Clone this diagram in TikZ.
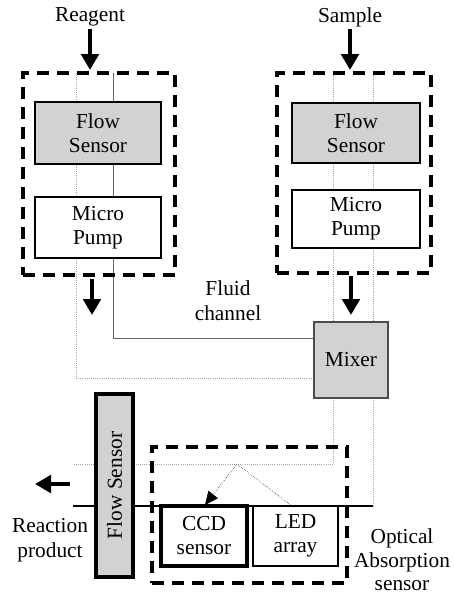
\documentclass[tikz,border=0pt]{standalone}
\usepackage{fontspec}
\setmainfont{Liberation Serif}
\usetikzlibrary{arrows.meta,positioning}
\begin{document}
\begin{tikzpicture}[x=0.75pt,y=-0.75pt,
  every node/.style={font=\fontsize{16}{18}\selectfont, inner sep=0pt, align=center},
  dashbox/.style={draw, line width=3pt, dash pattern=on 9pt off 6pt},
  sensorbox/.style={draw, line width=2pt, fill=gray!35},
  pumpbox/.style={draw, line width=1.6pt, fill=white},
  chan/.style={draw=gray!70, line width=0.6pt, densely dotted},
  chansolid/.style={draw=gray!80!black, line width=0.6pt},
  bigarrow/.style={line width=3pt, -{Triangle[width=13pt,length=12pt]}},
  label/.style={font=\fontsize{16}{19}\selectfont}
]
\useasboundingbox (0,0) rectangle (454,597);

% channel lines
\coordinate (L1t) at (76,73);  \coordinate (L1b) at (76,378);
\coordinate (L2t) at (113,73); \coordinate (L2b) at (113,338);
\coordinate (R1t) at (333,73); \coordinate (R2t) at (373,73);
\draw[chan] (L1t) -- (L1b) -- (314,378);
\draw[chansolid] (L2t) -- (L2b) -- (314,338);
\draw[chan] (R1t) -- (333,322);
\draw[chan] (R2t) -- (373,322);
\draw[chan] (333,398) -- (333,464) -- (73,464);
\draw[chan] (373,398) -- (373,506);
\draw[line width=0.9pt] (373,506) -- (73,506);

% light rays
\coordinate (ray) at (237,464);
\draw[line width=0.4pt, densely dotted] (292,506) -- (ray);
\draw[line width=0.4pt, densely dotted, -{Triangle[width=9pt,length=10pt]}] (ray) -- (205,505);

% left module
\node[dashbox, minimum width=152*0.75pt, minimum height=202*0.75pt] (lbox) at (99,174) {};
\node[sensorbox, minimum width=126*0.75pt, minimum height=62*0.75pt] (lfs) at (98,133) {Flow\\Sensor};
\node[pumpbox, minimum width=126*0.75pt, minimum height=61*0.75pt] (lmp) at (98,227.5) {Micro\\Pump};

% right module
\node[dashbox, minimum width=154*0.75pt, minimum height=200*0.75pt] (rbox) at (354,173) {};
\node[sensorbox, minimum width=128*0.75pt, minimum height=60*0.75pt] (rfs) at (356,133) {Flow\\Sensor};
\node[pumpbox, minimum width=128*0.75pt, minimum height=58*0.75pt] (rmp) at (356,219) {Micro\\Pump};

% mixer
\node[draw=gray!60!black, line width=0.8pt, fill=gray!35, minimum width=74*0.75pt, minimum height=76*0.75pt] (mix) at (351,360) {Mixer};

% outlet flow sensor
\node[sensorbox, line width=2.4pt, minimum width=37*0.75pt, minimum height=183*0.75pt] (ofs) at (114.5,485.5) {};
\node[rotate=90] at (ofs.center) {Flow Sensor};

% optical sensor
\node[dashbox, line width=2.6pt, minimum width=195*0.75pt, minimum height=136*0.75pt] (obox) at (249.5,515) {};
\node[draw, line width=2.6pt, fill=white, minimum width=86*0.75pt, minimum height=60*0.75pt] (ccd) at (204,536) {CCD\\sensor};
\node[draw, line width=1.6pt, fill=white, minimum width=85*0.75pt, minimum height=60*0.75pt] (led) at (295.5,536) {LED\\array};

% arrows
\node[label] (reag) at (90,17) {Reagent};
\node[label] (samp) at (350,17) {Sample};
\draw[bigarrow] (reag.south |- 0,29) -- (90,70);
\draw[bigarrow] (samp.south |- 0,29) -- (350,70);
\draw[bigarrow] (92,279) -- (92,315);
\draw[bigarrow] (351,276) -- (351,315);
\draw[bigarrow] (70,484) -- (35,484);

% labels
\node[label] (fluid) at (228,301) {Fluid\\channel};
\node[label] (react) at (50,540) {Reaction\\product};
\node[font=\fontsize{16}{17.5}\selectfont] (opt) at (402,560) {Optical\\Absorption\\sensor};
\end{tikzpicture}
\end{document}
